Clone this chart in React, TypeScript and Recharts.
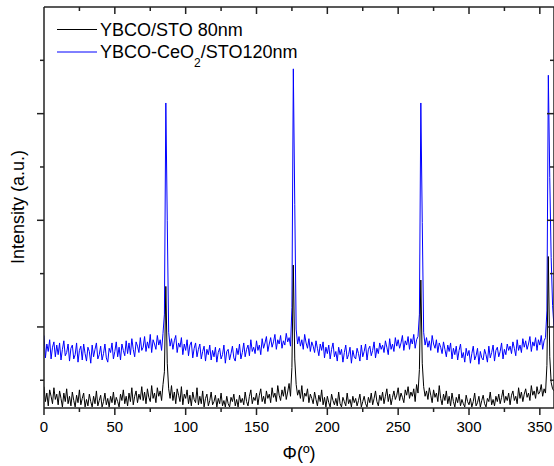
import React from 'react';
import { LineChart, Line, XAxis, YAxis } from 'recharts';

// phi scan, 1 degree steps
const phiDeg = Array.from({ length: 361 }, (_, i) => i);

// YBCO/STO 80nm (arb. units, major y tick = 100)
const ybcoSto = [
  44, 30, 38, 26, 41, 35, 28, 43, 32, 37,
  27, 40, 33, 25, 38, 30, 42, 28, 35, 26,
  39, 31, 25, 36, 29, 41, 27, 33, 38, 25,
  32, 26, 37, 30, 25, 35, 28, 40, 26, 31,
  36, 25, 30, 38, 27, 33, 25, 35, 29, 39,
  27, 34, 30, 25, 37, 31, 41, 28, 35, 26,
  38, 30, 43, 27, 35, 40, 29, 37, 32, 44,
  31, 39, 28, 42, 34, 30, 45, 33, 38, 29,
  43, 35, 40, 31, 46, 58, 138, 66, 42, 33,
  45, 31, 39, 28, 42, 36, 30, 44, 27, 37,
  33, 41, 28, 36, 26, 39, 32, 29, 43, 27,
  35, 28, 40, 25, 33, 37, 26, 31, 39, 27,
  30, 36, 25, 33, 28, 38, 26, 31, 25, 35,
  28, 25, 34, 30, 37, 26, 32, 25, 36, 29,
  33, 27, 39, 30, 26, 35, 41, 28, 34, 31,
  38, 27, 36, 42, 30, 35, 28, 40, 33, 37,
  29, 43, 34, 38, 30, 45, 36, 31, 41, 35,
  44, 32, 39, 47, 35, 62, 158, 70, 46, 36,
  41, 33, 45, 30, 38, 35, 42, 29, 37, 33,
  28, 39, 32, 26, 36, 30, 41, 27, 34, 25,
  35, 29, 25, 37, 31, 27, 33, 26, 39, 28,
  25, 34, 30, 26, 38, 28, 32, 25, 35, 29,
  33, 26, 31, 37, 25, 30, 35, 28, 25, 34,
  29, 38, 27, 33, 40, 30, 26, 36, 31, 39,
  28, 35, 42, 30, 37, 27, 34, 40, 32, 36,
  43, 31, 38, 34, 29, 41, 36, 44, 33, 39,
  35, 42, 30, 46, 38, 60, 144, 66, 44, 35,
  40, 32, 43, 36, 29, 41, 34, 38, 30, 45,
  33, 27, 37, 31, 40, 28, 35, 26, 38, 30,
  25, 34, 29, 37, 26, 32, 28, 25, 36, 30,
  27, 33, 25, 30, 38, 26, 29, 35, 25, 31,
  36, 28, 25, 33, 30, 39, 27, 32, 26, 35,
  30, 37, 28, 34, 41, 29, 35, 31, 38, 27,
  36, 40, 31, 35, 28, 43, 33, 39, 30, 37,
  42, 34, 38, 31, 45, 36, 40, 33, 44, 37,
  39, 46, 35, 42, 38, 64, 166, 72, 48, 42, 40,
];

// YBCO-CeO2/STO 120nm
const ybcoCeoSto = [
  92, 71, 84, 77, 88, 70, 81, 86, 72, 83,
  74, 85, 69, 79, 87, 73, 76, 84, 68, 80,
  83, 70, 74, 85, 67, 78, 82, 69, 84, 75,
  68, 81, 77, 66, 83, 72, 79, 85, 70, 74,
  82, 69, 75, 84, 71, 67, 80, 76, 85, 70,
  77, 86, 72, 81, 69, 84, 78, 73, 87, 75,
  85, 74, 89, 79, 72, 86, 82, 76, 90, 78,
  81, 91, 77, 86, 80, 93, 76, 88, 84, 79,
  92, 83, 88, 78, 94, 112, 310, 200, 95, 82,
  89, 79, 87, 92, 76, 85, 81, 90, 74, 84,
  78, 88, 73, 83, 86, 71, 80, 85, 72, 79,
  84, 70, 77, 82, 68, 79, 74, 83, 69, 78,
  72, 81, 67, 76, 80, 70, 74, 83, 66, 77,
  79, 69, 75, 82, 71, 68, 80, 74, 84, 70,
  76, 85, 72, 79, 83, 73, 88, 77, 81, 75,
  87, 78, 83, 74, 89, 80, 85, 91, 77, 84,
  90, 81, 86, 93, 79, 88, 84, 92, 80, 87,
  83, 94, 86, 90, 82, 118, 342, 215, 98, 84,
  91, 82, 88, 79, 93, 85, 80, 89, 77, 86,
  82, 76, 87, 80, 73, 84, 78, 86, 71, 81,
  75, 83, 70, 79, 85, 72, 77, 68, 81, 74,
  79, 67, 76, 83, 70, 74, 81, 66, 78, 72,
  70, 80, 75, 68, 83, 72, 77, 84, 69, 79,
  82, 73, 78, 86, 71, 80, 75, 85, 79, 83,
  76, 87, 81, 74, 89, 79, 84, 77, 90, 82,
  88, 80, 85, 92, 78, 87, 83, 91, 79, 89,
  84, 93, 80, 88, 91, 112, 310, 198, 95, 83,
  90, 81, 87, 78, 92, 84, 80, 88, 76, 85,
  81, 75, 86, 79, 72, 83, 77, 85, 70, 80,
  74, 82, 69, 78, 84, 71, 76, 67, 80, 73,
  78, 66, 75, 82, 69, 73, 80, 65, 77, 71,
  69, 79, 74, 67, 82, 71, 76, 83, 68, 78,
  81, 72, 77, 85, 70, 79, 74, 84, 78, 82,
  75, 86, 80, 73, 88, 78, 83, 76, 89, 81,
  87, 79, 84, 91, 77, 86, 82, 90, 78, 88,
  83, 92, 79, 87, 90, 115, 336, 240, 165, 120, 100,
];

const xTicks = [0, 25, 50, 75, 100, 125, 150, 175, 200, 225, 250, 275, 300, 325, 350];
const topTicks = [25, 50, 75, 100, 125, 150, 175, 200, 225, 250, 275, 300, 325, 350];
const yTicks = [50, 100, 150, 200, 250, 300, 350];

const AXIS = '#222';
const FONT = '"Liberation Sans", Arial, sans-serif';

const data = phiDeg.map((p, i) => ({ phi: p, black: ybcoSto[i], blue: ybcoCeoSto[i] }));

const BottomTick = (props: any) => {
  const { x, y, payload } = props;
  const major = payload.value % 50 === 0;
  return (
    <g>
      <line x1={x} y1={y} x2={x} y2={y + (major ? 7 : 4)} stroke={AXIS} strokeWidth={1.5} />
      {major && (
        <text x={x} y={y + 24} textAnchor="middle" fontSize={15} fontFamily={FONT} fill="#000">
          {payload.value}
        </text>
      )}
    </g>
  );
};

const TopTick = (props: any) => {
  const { x, y, payload } = props;
  const major = payload.value % 50 === 0;
  return <line x1={x} y1={y} x2={x} y2={y + (major ? 7 : 4)} stroke={AXIS} strokeWidth={1.5} />;
};

const LeftTick = (props: any) => {
  const { x, y, payload } = props;
  const major = payload.value % 100 === 0;
  return <line x1={x} y1={y} x2={x - (major ? 7 : 4)} y2={y} stroke={AXIS} strokeWidth={1.5} />;
};

const RightTick = (props: any) => {
  const { x, y, payload } = props;
  const major = payload.value % 100 === 0;
  return <line x1={x} y1={y} x2={x - (major ? 7 : 4)} y2={y} stroke={AXIS} strokeWidth={1.5} />;
};

export default function App() {
  return (
    <div style={{ position: 'absolute', left: 0, top: 0, width: 554, height: 466, background: '#fff', fontFamily: FONT }}>
      <LineChart width={554} height={466} data={data} margin={{ top: 7, right: 0, bottom: 0, left: 0 }}>
        <XAxis
          dataKey="phi"
          type="number"
          domain={[0, 360]}
          ticks={xTicks}
          interval={0}
          allowDataOverflow
          height={58}
          tickSize={0}
          tickMargin={0}
          tickLine={false}
          tick={<BottomTick />}
          axisLine={{ stroke: AXIS, strokeWidth: 1.5 }}
        />
        <XAxis
          xAxisId="top"
          orientation="top"
          mirror
          type="number"
          domain={[0, 360]}
          ticks={topTicks}
          interval={0}
          allowDataOverflow
          tickSize={0}
          tickMargin={0}
          tickLine={false}
          tick={<TopTick />}
          axisLine={{ stroke: AXIS, strokeWidth: 1.5 }}
        />
        <YAxis
          type="number"
          domain={[24, 400]}
          ticks={yTicks}
          interval={0}
          allowDataOverflow
          width={44}
          tickSize={0}
          tickMargin={0}
          tickLine={false}
          tick={<LeftTick />}
          axisLine={{ stroke: AXIS, strokeWidth: 1.5 }}
        />
        <YAxis
          yAxisId="right"
          orientation="right"
          mirror
          type="number"
          domain={[24, 400]}
          ticks={yTicks}
          interval={0}
          allowDataOverflow
          tickSize={0}
          tickMargin={0}
          tickLine={false}
          tick={<RightTick />}
          axisLine={{ stroke: AXIS, strokeWidth: 1.5 }}
        />
        <Line dataKey="blue" stroke="#0000ff" strokeWidth={1} dot={false} isAnimationActive={false} />
        <Line dataKey="black" stroke="#000000" strokeWidth={1} dot={false} isAnimationActive={false} />
      </LineChart>
      <svg width={554} height={466} style={{ position: 'absolute', left: 0, top: 0, pointerEvents: 'none' }}>
        <line x1={57} y1={29.5} x2={97} y2={29.5} stroke="#000" strokeWidth={1} />
        <text x={100} y={36} fontSize={18} fontFamily={FONT} fill="#000">YBCO/STO 80nm</text>
        <line x1={57} y1={52} x2={97} y2={52} stroke="#0000ff" strokeWidth={1} />
        <text x={100} y={58} fontSize={18} fontFamily={FONT} fill="#000">
          YBCO-CeO<tspan fontSize={12} dy={9}>2</tspan>
          <tspan dy={-9}>/STO120nm</tspan>
        </text>
        <text x={299} y={459} textAnchor="middle" fontSize={18} fontFamily={FONT} fill="#000">Φ(º)</text>
        <text transform="translate(24,207) rotate(-90)" textAnchor="middle" fontSize={18} fontFamily={FONT} fill="#000">
          Intensity (a.u.)
        </text>
      </svg>
    </div>
  );
}
